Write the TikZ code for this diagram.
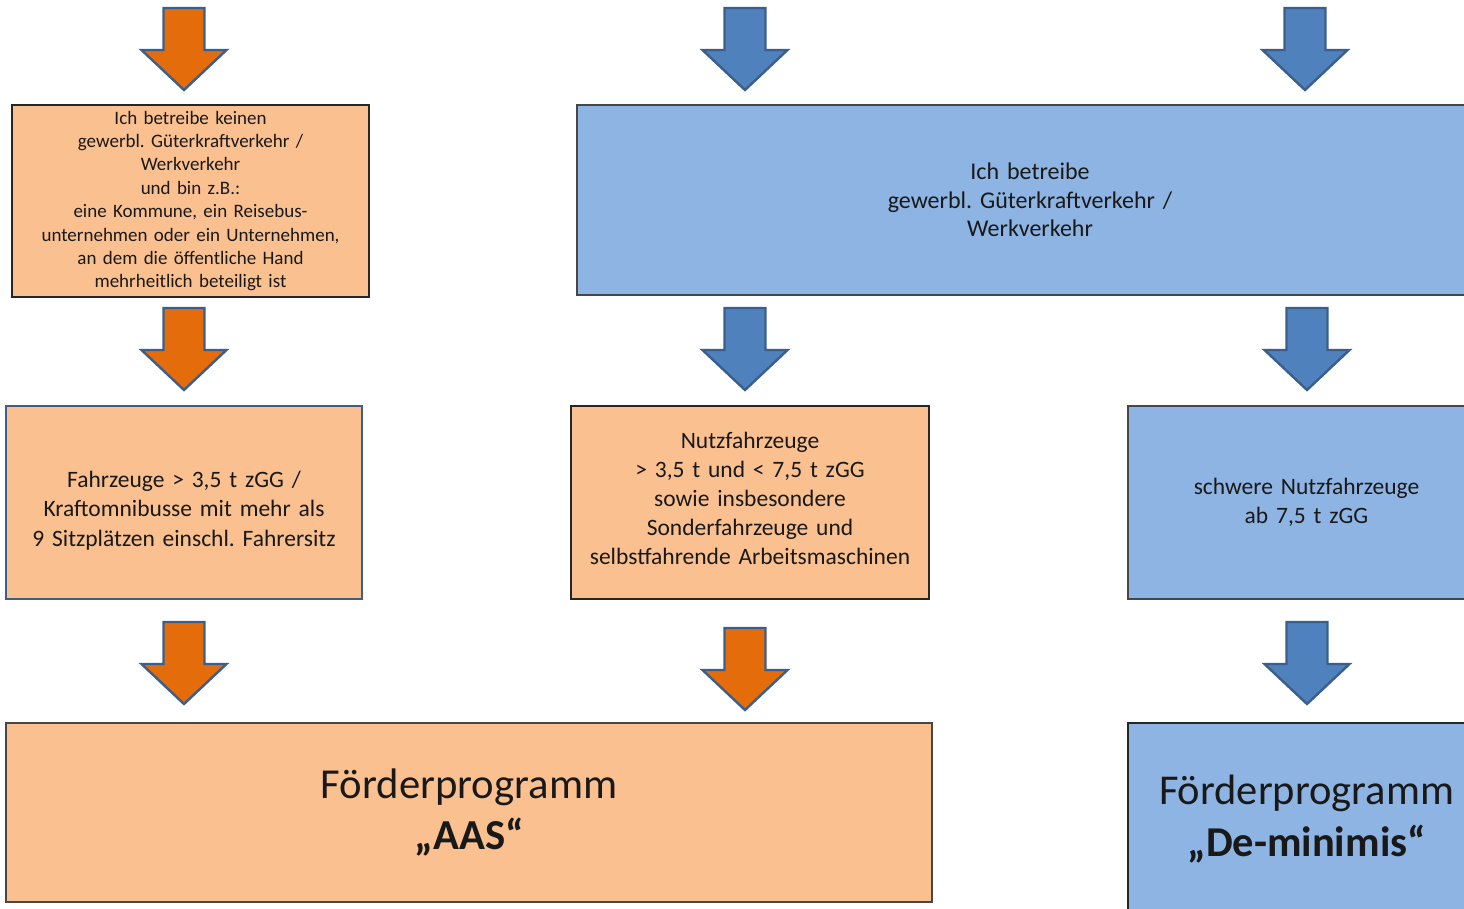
\documentclass[tikz,border=0pt]{standalone}
\usepackage{fontspec}
\setmainfont{Carlito}
\usepackage{xcolor}
\usepackage{tikz}
\usetikzlibrary{positioning,calc}
\definecolor{boxorange}{HTML}{FAC090}
\definecolor{boxblue}{HTML}{8EB4E3}
\definecolor{arrorange}{HTML}{E46C0A}
\definecolor{arrblue}{HTML}{4F81BD}
\definecolor{arredge}{HTML}{3A5F8C}
\definecolor{darkedge}{HTML}{262626}
\frenchspacing

\begin{document}
\begin{tikzpicture}[x=1pt,y=-1pt,
  box/.style={draw=darkedge,line width=1.6pt,align=center,inner sep=0pt,text=black!90},
  orangebox/.style={box,fill=boxorange},
  bluebox/.style={box,fill=boxblue},
  boxtext/.style={align=center,inner sep=0pt,text=black!90}]

\useasboundingbox (0,0) rectangle (1464,908);
\clip (0,0) rectangle (1464,908);

\def\sw{20.5}  % half shaft
\def\hw{42.5}  % half head
\def\sl{42}    % shaft length
\def\al{82}    % arrow length

% draw the block arrows
\foreach \cx/\ty/\col in {184/8/arrorange, 745/8/arrblue, 1305/8/arrblue,
                          184/308/arrorange, 745/308/arrblue, 1307/308/arrblue,
                          184/622/arrorange, 745/628/arrorange, 1307/622/arrblue}
\filldraw[fill=\col, draw=arredge, line width=2.4pt, line join=miter]
  ({\cx-\sw},\ty) -- ({\cx+\sw},\ty) -- ({\cx+\sw},{\ty+\sl}) -- ({\cx+\hw},{\ty+\sl})
  -- (\cx,{\ty+\al}) -- ({\cx-\hw},{\ty+\sl}) -- ({\cx-\sw},{\ty+\sl}) -- cycle;

% first row
\node[orangebox, minimum width=357pt, minimum height=192pt, text width=340pt,
      font=\fontsize{19}{23.4}\selectfont] (keinen) at (190.5,201)
  {Ich betreibe keinen\\ gewerbl. Güterkraftverkehr /\\ Werkverkehr\\ und bin z.B.:\\
   eine Kommune, ein Reisebus-\\ unternehmen oder ein Unternehmen,\\
   an dem die öffentliche Hand\\ mehrheitlich beteiligt ist};
\node[bluebox, draw=darkedge!85, minimum width=906pt, minimum height=190pt, text width=880pt,
      font=\fontsize{24}{28.5}\selectfont] (gewerbl) at (1030,200)
  {Ich betreibe\\ gewerbl. Güterkraftverkehr /\\ Werkverkehr};

% second row
\node[orangebox, draw=arredge, minimum width=356pt, minimum height=193pt] (fahrzeuge) at (184,502.5) {};
\node[boxtext, text width=340pt, font=\fontsize{23.5}{29.5}\selectfont]
  (fahrzeugeText) at ([yshift=-8pt]fahrzeuge.center)
  {Fahrzeuge > 3,5 t zGG /\\ Kraftomnibusse mit mehr als\\ 9 Sitzplätzen einschl. Fahrersitz};
\node[orangebox, minimum width=358pt, minimum height=193pt] (nutzfz) at (750,502.5) {};
\node[boxtext, text width=350pt, font=\fontsize{23.5}{28.8}\selectfont]
  (nutzfzText) at ([yshift=4pt]nutzfz.center)
  {Nutzfahrzeuge\\ > 3,5 t und < 7,5 t zGG\\ sowie insbesondere\\ Sonderfahrzeuge und\\
   selbstfahrende Arbeitsmaschinen};
\node[bluebox, draw=darkedge!85, minimum width=357pt, minimum height=193pt, text width=340pt,
      font=\fontsize{23.5}{29}\selectfont] (schwer) at (1306.5,502.5)
  {schwere Nutzfahrzeuge\\ ab 7,5 t zGG};

% programmes
\node[orangebox, draw=darkedge!85, minimum width=926pt, minimum height=179pt, text width=900pt,
      font=\fontsize{42.7}{51}\selectfont] (aas) at (469,812.5)
  {Förderprogramm\\ \textbf{„AAS“}};
\node[bluebox, minimum width=357pt, minimum height=192pt, text width=357pt,
      font=\fontsize{42.5}{52}\selectfont] (deminimis) at (1306.5,819)
  {Förderprogramm\\ \textbf{„De-minimis“}};

\end{tikzpicture}
\end{document}
